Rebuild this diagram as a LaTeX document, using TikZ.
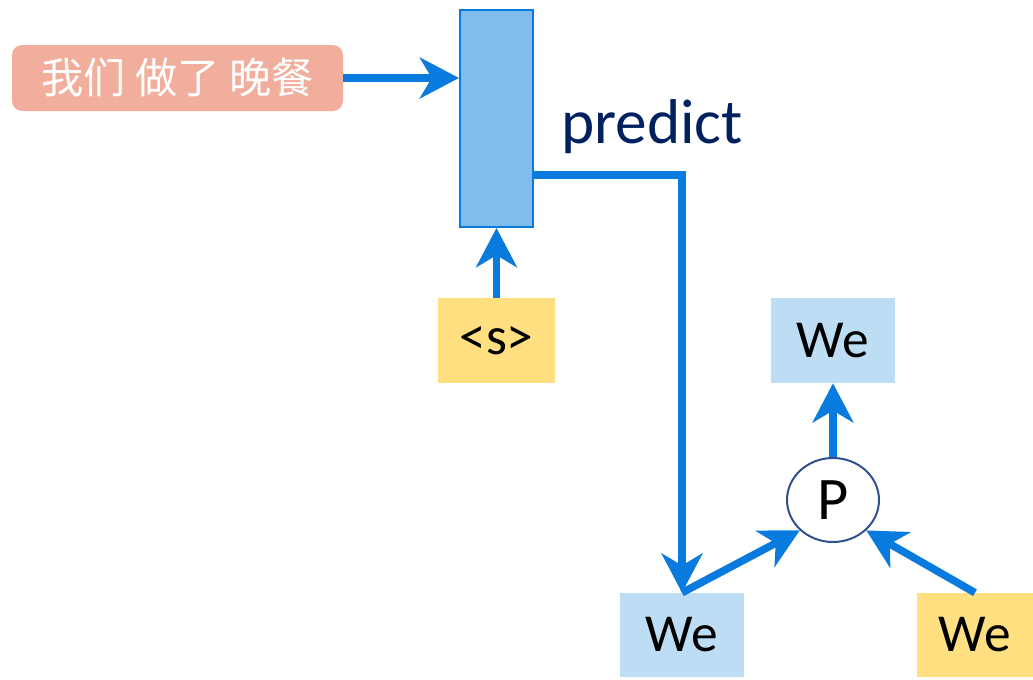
\documentclass[tikz,border=0pt]{standalone}
\usepackage{fontspec}
\setmainfont{Carlito}
\newfontfamily\cjk{Noto Sans CJK SC}
\usetikzlibrary{arrows.meta,calc,shapes.geometric}

\definecolor{flowblue}{HTML}{0A7BDE}
\definecolor{encblue}{HTML}{80BDEC}
\definecolor{wordblue}{HTML}{BDDDF5}
\definecolor{wordgold}{HTML}{FFDF80}
\definecolor{srcred}{HTML}{F2AE9C}
\definecolor{navy}{HTML}{002060}
\definecolor{ringblue}{HTML}{2F528F}

\tikzset{
	flow/.style={line width=1.9mm, color=flowblue, -{Stealth[length=9.8mm, width=10.2mm, inset=3mm]}},
	word/.style={inner sep=0, minimum width=3.1cm, minimum height=2.1cm, font=\fontsize{38}{40}\selectfont},
}

\begin{document}
\begin{tikzpicture}
			%%%%% START %%%%%
			\useasboundingbox (0, 0) rectangle (25.825, -17);
			
			\node[fill=srcred, rounded corners=0.25cm, minimum width=8.275cm, minimum height=1.65cm, text=white, font=\cjk\fontsize{30}{33}\selectfont] (src) at (4.4375, -1.95) {我们 做了 晚餐};
			\node[draw=flowblue, line width=0.5mm, fill=encblue, minimum width=1.825cm, minimum height=5.425cm] (enc) at (12.4125, -2.9625) {};
			\node[word, fill=wordgold, minimum width=2.925cm, minimum height=2.125cm] (bos) at (12.4125, -8.5125) {<s>};
			
			\node[anchor=base west, inner sep=0, text=navy, font=\fontsize{45}{48}\selectfont] (pred) at (14.02, -3.575) {predict};
			
			\node[word, fill=wordblue] (we1) at (17.05, -15.875) {We};
			\node[word, fill=wordblue, minimum height=2.125cm] (we2) at (20.825, -8.5125) {We};
			\node[word, fill=wordgold, minimum width=2.9cm] (we3) at (24.375, -15.875) {We};
			\node[ellipse, draw=ringblue, line width=0.5mm, fill=white, minimum width=2.3cm, minimum height=2.1cm, inner sep=0, font=\fontsize{43}{45}\selectfont] (p) at (20.825, -12.5) {P};
			
			\coordinate (out) at ($(enc.south east)+(-0.06, 1.325)$);
			
			\draw[flow] (src.east) -- (src.east -| enc.west);
			\draw[flow] (bos.north) -- (enc.south);
			\draw[flow] (out) -| (we1.north);
			
			\draw[flow] (we1.north) -- (p.south west);
			\draw[flow] (we3.north) -- (p.south east);
			\draw[flow] (p.north) -- (we2.south);
			%%%%% END %%%%%
		\end{tikzpicture}
\end{document}
